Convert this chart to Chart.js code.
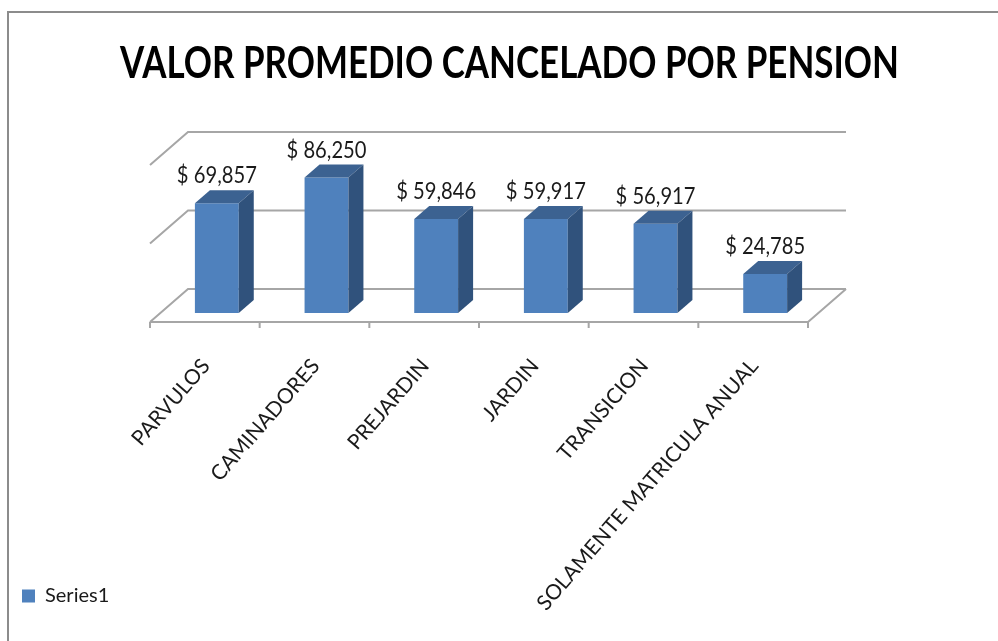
<!DOCTYPE html>
<html><head><meta charset="utf-8">
<style>html,body{margin:0;padding:0;background:#fff}canvas{display:block}</style>
<script src="https://cdn.jsdelivr.net/npm/chart.js@4"></script></head>
<body><canvas id="c" width="998" height="641" style="width:998px;height:641px"></canvas>
<script>
const categories = ["PARVULOS","CAMINADORES","PREJARDIN","JARDIN","TRANSICION","SOLAMENTE MATRICULA ANUAL"];
const values = [69857,86250,59846,59917,56917,24785];
const seriesName = "Series1";
const titleText = "VALOR PROMEDIO CANCELADO POR PENSION";
const yTicks = [0,50000,100000];
const FONT = 'Lato,"Open Sans",sans-serif';
const FRONT = '#4f81bd', TOP = '#3c6291', SIDE = '#30527c', GRID = '#a6a6a6', INK = '#1a1a1a';
const barDepth = {dx:15, dy:-13};
const wallFront = {dx:-12, dy:9}, wallBack = {dx:26, dy:-24};
const PAD_LEFT = 22, PAD_BOTTOM = 35, AREA_LEFT = 162, AREA_RIGHT = 178, AREA_BOTTOM = 328;
const TITLE_LEFT = 120, TITLE_RIGHT = 899, VALUE_LABEL_WIDTH = 80;

const view3d = {
  id:'view3d',
  afterLayout(chart){
    // the reference's title is condensed: Chart.js squeezes the text to the block's width
    chart.titleBlock.left = TITLE_LEFT;
    chart.titleBlock.right = TITLE_RIGHT;
    // let the long rotated tick label run past the axis box instead of being clipped
    chart.scales.x.bottom = chart.height;
  },
  beforeDatasetsDraw(chart){
    const {ctx,chartArea:a,scales:{x,y}} = chart;
    ctx.save();
    ctx.strokeStyle='#8c8c8c'; ctx.lineWidth=2;
    ctx.beginPath(); ctx.moveTo(8,641); ctx.lineTo(8,12); ctx.lineTo(998,12); ctx.stroke();
    ctx.strokeStyle=GRID; ctx.lineWidth=2;
    yTicks.forEach(t=>{
      const py=y.getPixelForValue(t);
      ctx.beginPath();
      ctx.moveTo(a.left+wallFront.dx,py+wallFront.dy);
      ctx.lineTo(a.left+wallBack.dx,py+wallBack.dy);
      ctx.lineTo(a.right+wallBack.dx,py+wallBack.dy);
      ctx.stroke();
    });
    const p0=y.getPixelForValue(0);
    ctx.beginPath();
    ctx.moveTo(a.right+wallBack.dx,p0+wallBack.dy);
    ctx.lineTo(a.right+wallFront.dx,p0+wallFront.dy);
    ctx.lineTo(a.left+wallFront.dx,p0+wallFront.dy);
    ctx.stroke();
    const step=(a.right-a.left)/categories.length;
    for(let i=0;i<=categories.length;i++){
      const tx=a.left+wallFront.dx+i*step;
      ctx.beginPath(); ctx.moveTo(tx,p0+wallFront.dy); ctx.lineTo(tx,p0+wallFront.dy+6); ctx.stroke();
    }
    ctx.restore();
  },
  afterDatasetsDraw(chart){
    const {ctx}=chart;
    const meta=chart.getDatasetMeta(0);
    ctx.save();
    meta.data.forEach((b,i)=>{
      const l=b.x-b.width/2,r=b.x+b.width/2,t=b.y,bt=b.base,{dx,dy}=barDepth;
      ctx.fillStyle=TOP;
      ctx.beginPath();ctx.moveTo(l,t);ctx.lineTo(l+dx,t+dy);ctx.lineTo(r+dx,t+dy);ctx.lineTo(r,t);ctx.closePath();ctx.fill();
      ctx.fillStyle=SIDE;
      ctx.beginPath();ctx.moveTo(r,t);ctx.lineTo(r+dx,t+dy);ctx.lineTo(r+dx,bt+dy);ctx.lineTo(r,bt);ctx.closePath();ctx.fill();
      ctx.fillStyle=INK;
      ctx.font='24px '+FONT;ctx.textAlign='center';ctx.textBaseline='alphabetic';
      ctx.fillText('$ '+values[i].toLocaleString('en-US'),b.x,t-20,VALUE_LABEL_WIDTH);
    });
    ctx.restore();
  }
};

new Chart(document.getElementById('c'),{
  type:'bar',
  data:{labels:categories,datasets:[{label:seriesName,data:values,backgroundColor:FRONT,borderWidth:0,barPercentage:0.8,categoryPercentage:0.5}]},
  plugins:[view3d],
  options:{
    responsive:false,animation:false,
    layout:{padding:{left:PAD_LEFT,right:0,top:0,bottom:PAD_BOTTOM}},
    plugins:{
      title:{display:true,text:titleText,color:'#000',font:{family:FONT,size:43,weight:'bold'},padding:{top:38,bottom:66.4}},
      legend:{display:true,position:'left',align:'end',
        labels:{boxWidth:13,boxHeight:13,padding:0,color:INK,font:{family:FONT,size:20}}},
      tooltip:{enabled:false}
    },
    scales:{
      x:{grid:{display:false},border:{display:false},
        ticks:{minRotation:49,maxRotation:49,autoSkip:false,labelOffset:-11,padding:33,color:INK,font:{family:FONT,size:21}},
        afterFit(s){s.height=AREA_BOTTOM-PAD_BOTTOM;}},
      y:{min:0,max:100000,grid:{display:false},border:{display:false},ticks:{display:false},
        afterFit(s){s.width=AREA_LEFT-PAD_LEFT-(s.chart.legend?s.chart.legend.width:0);}},
      y2:{position:'right',grid:{display:false},border:{display:false},ticks:{display:false},
        afterFit(s){s.width=AREA_RIGHT;}}
    }
  }
});
</script></body></html>
